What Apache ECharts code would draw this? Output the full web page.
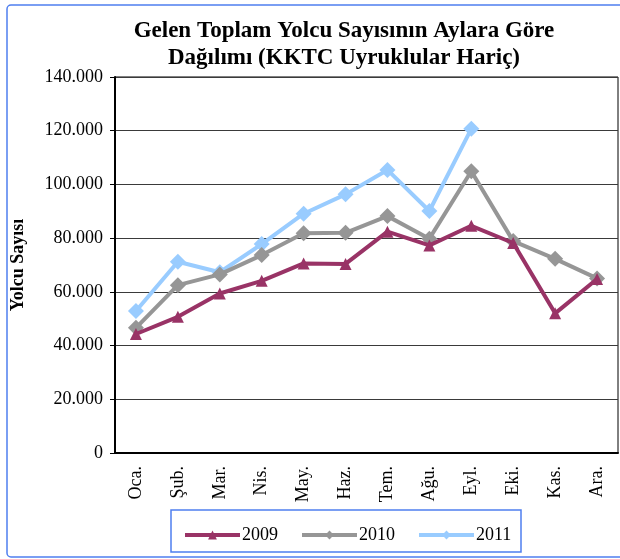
<!DOCTYPE html>
<html>
<head>
<meta charset="utf-8">
<script src="https://cdn.jsdelivr.net/npm/echarts@6/dist/echarts.min.js"></script>
<style>
  html, body { margin: 0; padding: 0; background: #fff; }
  #chart { width: 620px; height: 559px; }
</style>
</head>
<body>
<div id="chart"></div>
<script>
var months = ['Oca.', 'Şub.', 'Mar.', 'Nis.', 'May.', 'Haz.', 'Tem.', 'Ağu.', 'Eyl.', 'Eki.', 'Kas.', 'Ara.']
var y2009 = [44300, 50700, 59400, 64100, 70600, 70400, 82400, 77300, 84600, 78200, 52000, 64800]
var y2010 = [46600, 62500, 66500, 73700, 81800, 82000, 88200, 79800, 104900, 78900, 72300, 65000]
var y2011 = [52900, 71200, 67300, 77800, 89100, 96300, 105400, 90100, 120700, null, null, null]

var chart = echarts.init(document.getElementById('chart'))

var font = '"Liberation Serif", "Times New Roman", serif'

function fmt(v) {
  return String(v).replace(/\B(?=(\d{3})+(?!\d))/g, '.')
}

var option = {
  backgroundColor: '#fff',
  animation: false,
  title: {
    text: 'Gelen Toplam Yolcu Sayısının Aylara Göre\nDağılımı (KKTC Uyruklular Hariç)',
    left: 339,
    top: 13,
    textAlign: 'center',
    textStyle: {
      fontFamily: font,
      fontSize: 23,
      fontWeight: 'bold',
      color: '#000',
      lineHeight: 27
    }
  },
  graphic: [
    {
      type: 'rect',
      shape: { x: 7, y: 5, width: 620, height: 552, r: 4 },
      style: { fill: 'none', stroke: '#4f7fef', lineWidth: 1.5 },
      silent: true
    },
    {
      type: 'rect',
      shape: { x: 171, y: 510, width: 350, height: 42 },
      style: { fill: 'none', stroke: '#4f7fef', lineWidth: 1.5 },
      silent: true
    }
  ],
  legend: {
    left: 178,
    top: 521,
    itemWidth: 55,
    itemHeight: 11,
    itemGap: 22,
    lineStyle: { width: 4 },
    textStyle: { fontFamily: font, fontSize: 18, color: '#000', padding: [0, 0, 0, -3] },
    data: ['2009', '2010', '2011']
  },
  grid: {
    left: 115,
    right: 2,
    top: 77,
    bottom: 106,
    show: true,
    borderColor: '#000',
    borderWidth: 1
  },
  xAxis: {
    type: 'category',
    data: months,
    boundaryGap: true,
    axisLine: { lineStyle: { color: '#000', width: 2 } },
    axisTick: { show: false },
    axisLabel: {
      rotate: 90,
      margin: 13,
      fontFamily: font,
      fontSize: 18,
      color: '#000'
    }
  },
  yAxis: {
    type: 'value',
    min: 0,
    max: 140000,
    interval: 20000,
    name: 'Yolcu Sayısı',
    nameLocation: 'middle',
    nameGap: 88,
    nameTextStyle: {
      fontFamily: font,
      fontSize: 18,
      fontWeight: 'bold',
      color: '#000'
    },
    axisLine: { show: true, lineStyle: { color: '#000', width: 2 } },
    axisTick: { show: true, length: 5, lineStyle: { color: '#000' } },
    axisLabel: {
      margin: 12,
      fontFamily: font,
      fontSize: 18,
      color: '#000',
      formatter: fmt
    },
    splitLine: { lineStyle: { color: '#3a3a3a', width: 1 } }
  },
  series: [
    {
      name: '2009',
      type: 'line',
      data: y2009,
      symbol: 'triangle',
      symbolSize: 12,
      lineStyle: { width: 4, color: '#993366' },
      itemStyle: { color: '#993366' },
      z: 4
    },
    {
      name: '2010',
      type: 'line',
      data: y2010,
      symbol: 'diamond',
      symbolSize: 16,
      lineStyle: { width: 4, color: '#969696' },
      itemStyle: { color: '#969696' },
      z: 3
    },
    {
      name: '2011',
      type: 'line',
      data: y2011,
      symbol: 'diamond',
      symbolSize: 16,
      lineStyle: { width: 4, color: '#99ccff' },
      itemStyle: { color: '#99ccff' },
      z: 2
    }
  ]
}

chart.setOption(option)
</script>
</body>
</html>
